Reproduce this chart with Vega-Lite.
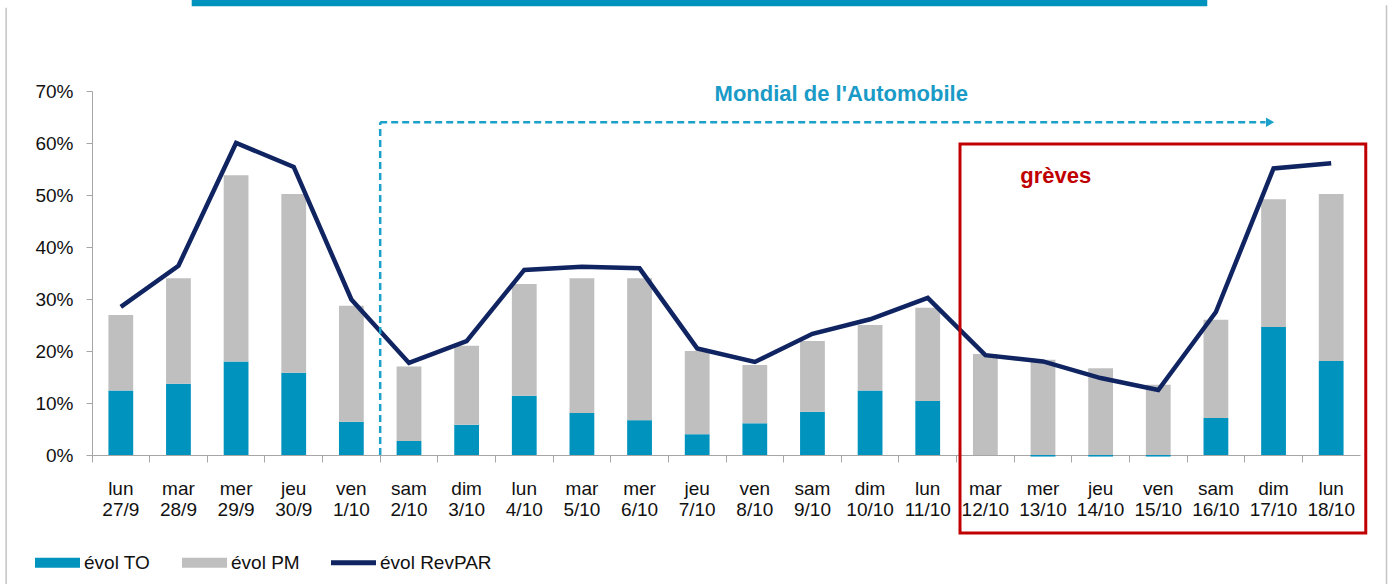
{
  "$schema": "https://vega.github.io/schema/vega-lite/v6.json",
  "width": 1268,
  "height": 364,
  "autosize": {"type": "none"},
  "padding": {"left": 92, "top": 91, "right": 32, "bottom": 129},
  "background": "white",
  "config": {
    "view": {"stroke": null},
    "font": "Liberation Sans",
    "axis": {"grid": false}
  },
  "datasets": {
    "jours": [
      {"jour": "lun 27/9", "TO": 12.4, "PM": 14.5, "RevPAR": 28.5},
      {"jour": "mar 28/9", "TO": 13.7, "PM": 20.3, "RevPAR": 36.4},
      {"jour": "mer 29/9", "TO": 18.0, "PM": 35.8, "RevPAR": 60.0},
      {"jour": "jeu 30/9", "TO": 15.8, "PM": 34.4, "RevPAR": 55.4},
      {"jour": "ven 1/10", "TO": 6.4, "PM": 22.3, "RevPAR": 29.9},
      {"jour": "sam 2/10", "TO": 2.7, "PM": 14.3, "RevPAR": 17.7},
      {"jour": "dim 3/10", "TO": 5.8, "PM": 15.2, "RevPAR": 21.9},
      {"jour": "lun 4/10", "TO": 11.4, "PM": 21.5, "RevPAR": 35.6},
      {"jour": "mar 5/10", "TO": 8.1, "PM": 25.9, "RevPAR": 36.2},
      {"jour": "mer 6/10", "TO": 6.7, "PM": 27.3, "RevPAR": 35.9},
      {"jour": "jeu 7/10", "TO": 4.0, "PM": 16.0, "RevPAR": 20.5},
      {"jour": "ven 8/10", "TO": 6.1, "PM": 11.2, "RevPAR": 17.9},
      {"jour": "sam 9/10", "TO": 8.3, "PM": 13.6, "RevPAR": 23.3},
      {"jour": "dim 10/10", "TO": 12.4, "PM": 12.6, "RevPAR": 26.1},
      {"jour": "lun 11/10", "TO": 10.4, "PM": 17.9, "RevPAR": 30.2},
      {"jour": "mar 12/10", "TO": 0.0, "PM": 19.4, "RevPAR": 19.2},
      {"jour": "mer 13/10", "TO": -0.3, "PM": 18.3, "RevPAR": 18.0},
      {"jour": "jeu 14/10", "TO": -0.3, "PM": 16.7, "RevPAR": 14.8},
      {"jour": "ven 15/10", "TO": -0.3, "PM": 13.5, "RevPAR": 12.5},
      {"jour": "sam 16/10", "TO": 7.1, "PM": 18.9, "RevPAR": 27.5},
      {"jour": "dim 17/10", "TO": 24.6, "PM": 24.6, "RevPAR": 55.1},
      {"jour": "lun 18/10", "TO": 18.1, "PM": 32.1, "RevPAR": 56.1}
    ]
  },
  "resolve": {"scale": {"x": "independent"}},
  "layer": [
    {
      "data": {"name": "jours"},
      "layer": [
        {
          "transform": [{"fold": ["TO", "PM"], "as": ["serie", "valeur"]}],
          "mark": {"type": "bar", "width": {"band": 0.43}},
          "encoding": {
            "x": {
              "field": "jour", "type": "nominal", "sort": null,
              "scale": {"paddingInner": 0, "paddingOuter": 0},
              "axis": {
                "title": null, "labelAngle": 0, "labelExpr": "split(datum.label, ' ')",
                "bandPosition": 0, "tickSize": 7, "labelPadding": 17,
                "labelFontSize": 19, "labelLineHeight": 21, "labelColor": "#111111",
                "domainColor": "#A6A6A6", "tickColor": "#A6A6A6", "labelBaseline": "top"
              }
            },
            "y": {
              "field": "valeur", "type": "quantitative", "stack": "zero",
              "scale": {"domain": [0, 70], "nice": false},
              "axis": {
                "title": null, "values": [0, 10, 20, 30, 40, 50, 60, 70],
                "labelExpr": "datum.value + '%'", "tickSize": 6, "labelPadding": 13,
                "labelFontSize": 19, "labelColor": "#111111",
                "domainColor": "#A6A6A6", "tickColor": "#A6A6A6"
              }
            },
            "color": {
              "field": "serie", "type": "nominal",
              "scale": {"domain": ["TO", "PM", "RevPAR"], "range": ["#0093BE", "#BFBFBF", "#0F2461"]},
              "legend": {
                "title": null, "orient": "none", "legendX": -57, "legendY": 449,
                "direction": "horizontal", "columns": 3, "padding": 0,
                "symbolSize": 2025, "labelFontSize": 19, "labelOffset": 4,
                "columnPadding": 31, "labelColor": "#111111",
                "labelExpr": "'évol ' + datum.label",
                "encode": {
                  "symbols": {
                    "update": {
                      "shape": {"signal": "datum.value === 'RevPAR' ? 'M-1,-0.11H1V0.11H-1Z' : 'M-1,-0.22H1V0.22H-1Z'"},
                      "fill": {"scale": "color", "field": "value"},
                      "strokeWidth": {"value": 0},
                      "opacity": {"value": 1}
                    }
                  }
                }
              }
            },
            "order": {"field": "serie", "sort": "descending"}
          }
        },
        {
          "mark": {"type": "line", "strokeWidth": 4.5},
          "encoding": {
            "x": {"field": "jour", "type": "nominal", "sort": null},
            "y": {"field": "RevPAR", "type": "quantitative"},
            "color": {"datum": "RevPAR", "type": "nominal"}
          }
        }
      ]
    },
    {
      "layer": [
        {
          "data": {"values": [{"de": 1.73, "a": 19.35, "haut": 87.6, "bas": 86.3}]},
          "mark": {"type": "rect", "color": "#0093BE"},
          "encoding": {
            "x": {"field": "de", "type": "quantitative", "scale": {"domain": [0, 22], "nice": false, "zero": false}, "axis": null},
            "x2": {"field": "a"},
            "y": {"field": "haut", "type": "quantitative"},
            "y2": {"field": "bas"}
          }
        },
        {
          "data": {"values": [{"pos": -1.49, "haut": 86, "bas": -25}, {"pos": 22.46, "haut": 86.5, "bas": -25}]},
          "mark": {"type": "rule", "color": "#C4C4C4", "strokeWidth": 1.5},
          "encoding": {
            "x": {"field": "pos", "type": "quantitative"},
            "y": {"field": "haut", "type": "quantitative"},
            "y2": {"field": "bas"}
          }
        },
        {
          "data": {"values": [{"debut": 5, "fin": 20.36, "pointe": 20.44, "base": 0, "niveau": 64}]},
          "layer": [
            {
              "mark": {"type": "rule", "color": "#1BA1C9", "strokeWidth": 2.5, "strokeDash": [7, 4]},
              "encoding": {
                "x": {"field": "debut", "type": "quantitative"},
                "y": {"field": "base", "type": "quantitative"},
                "y2": {"field": "niveau"}
              }
            },
            {
              "mark": {"type": "rule", "color": "#1BA1C9", "strokeWidth": 2.5, "strokeDash": [7, 4]},
              "encoding": {
                "x": {"field": "debut", "type": "quantitative"},
                "x2": {"field": "fin"},
                "y": {"field": "niveau", "type": "quantitative"}
              }
            },
            {
              "mark": {"type": "point", "shape": "triangle-right", "filled": true, "color": "#1BA1C9", "size": 90, "opacity": 1},
              "encoding": {
                "x": {"field": "pointe", "type": "quantitative"},
                "y": {"field": "niveau", "type": "quantitative"}
              }
            }
          ]
        },
        {
          "data": {"values": [{"texte": "Mondial de l'Automobile", "pos": 13.0, "niveau": 69.4}]},
          "mark": {"type": "text", "font": "Liberation Sans", "fontWeight": "bold", "fontSize": 22, "color": "#1A9AC6", "baseline": "middle", "align": "center"},
          "encoding": {
            "x": {"field": "pos", "type": "quantitative"},
            "y": {"field": "niveau", "type": "quantitative"},
            "text": {"field": "texte"}
          }
        },
        {
          "data": {"values": [{"de": 15.06, "a": 22.1, "haut": 59.8, "bas": -15}]},
          "mark": {"type": "rect", "filled": false, "stroke": "#C00000", "strokeWidth": 3},
          "encoding": {
            "x": {"field": "de", "type": "quantitative"},
            "x2": {"field": "a"},
            "y": {"field": "haut", "type": "quantitative"},
            "y2": {"field": "bas"}
          }
        },
        {
          "data": {"values": [{"texte": "grèves", "pos": 16.72, "niveau": 53.6}]},
          "mark": {"type": "text", "font": "Liberation Sans", "fontWeight": "bold", "fontSize": 22, "color": "#C00000", "baseline": "middle", "align": "center"},
          "encoding": {
            "x": {"field": "pos", "type": "quantitative"},
            "y": {"field": "niveau", "type": "quantitative"},
            "text": {"field": "texte"}
          }
        }
      ]
    }
  ]
}
